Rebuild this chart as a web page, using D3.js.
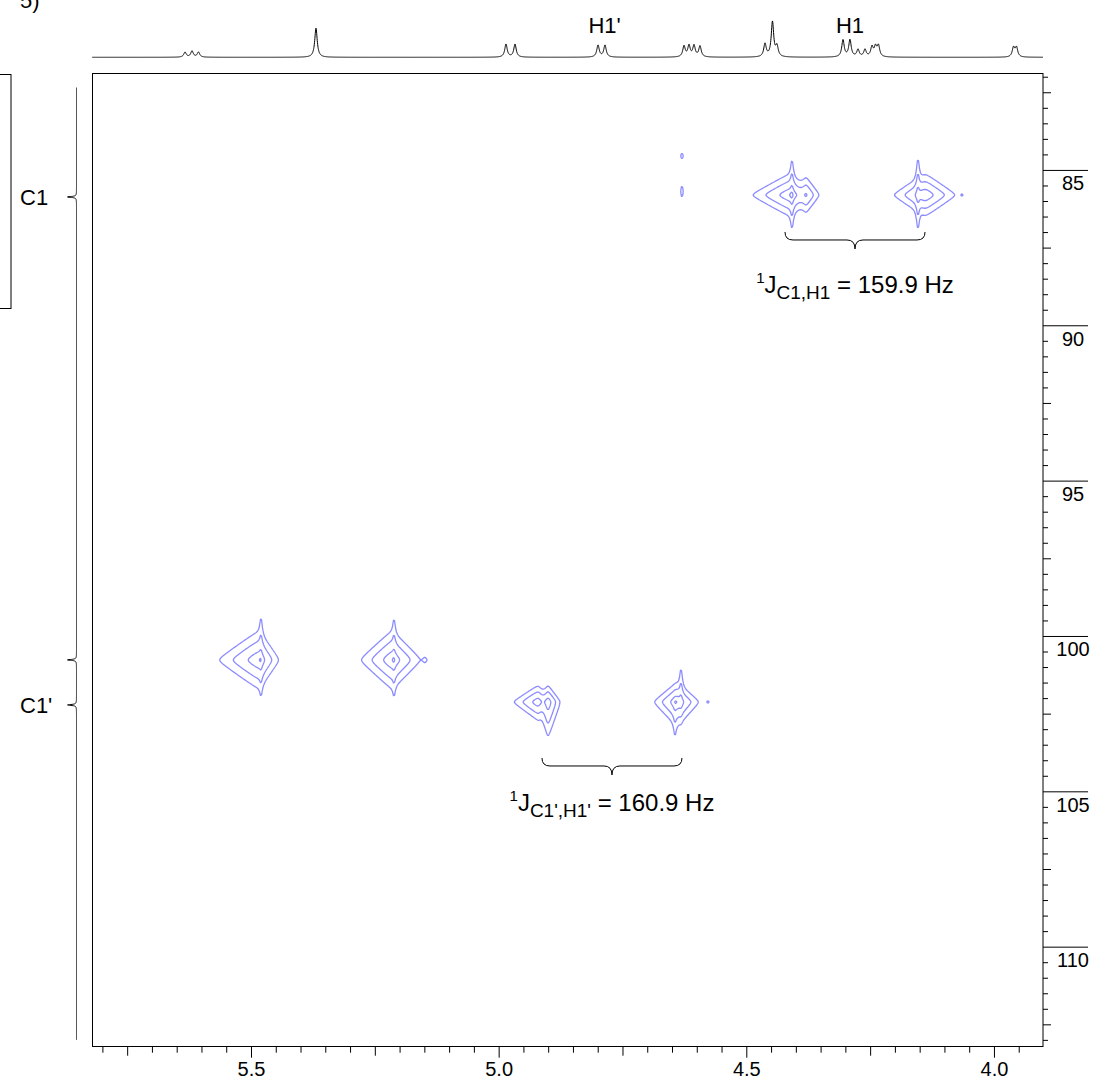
<!DOCTYPE html>
<html><head><meta charset="utf-8">
<script src="https://cdn.jsdelivr.net/npm/d3@7"></script>
<style>
html,body{margin:0;padding:0;background:#fff;}
svg{display:block;}
text{font-family:Arial,"Liberation Sans",Helvetica,sans-serif;fill:#000;}
</style></head><body>
<svg id="c" width="1096" height="1080"></svg>
<script>
// ---------------- DATA ----------------
const hDomain = [5.821, 3.901];          // 1H ppm (F2), left -> right
const cDomain = [81.88, 113.22];         // 13C ppm (F1), top -> bottom
const hMajorTicks = [5.5, 5.0, 4.5, 4.0];
const hTickLabels = ["5.5", "5.0", "4.5", "4.0"];
const hMediumTicks = [5.75, 5.25, 4.75, 4.25];
const cMajorTicks = [85, 90, 95, 100, 105, 110];
const cTickLabels = ["85", "90", "95", "100", "105", "110"];

// 1H projection peak list: [ppm, relative intensity]
const protonPeaks = [
  [5.6332, 0.14], [5.6191, 0.17], [5.6060, 0.14],
  [5.3688, 0.81],
  [4.9852, 0.36], [4.9670, 0.36],
  [4.7994, 0.33], [4.7853, 0.33],
  [4.6258, 0.30], [4.6157, 0.31], [4.6056, 0.31], [4.5935, 0.30],
  [4.4623, 0.36], [4.4472, 0.97], [4.4381, 0.28],
  [4.3048, 0.47], [4.2907, 0.47], [4.2745, 0.20], [4.2604, 0.20],
  [4.2463, 0.27], [4.2392, 0.26], [4.2332, 0.30],
  [3.9606, 0.26], [3.9545, 0.26]
];
const protonLabels = [["H1'", 4.786], ["H1", 4.2907]];

// 13C projection peak list: [ppm, relative intensity]
const carbonPeaks = [[85.87, 1.0], [100.77, 1.0], [102.22, 1.0]];
const carbonLabels = [["C1", 85.87], ["C1'", 102.22]];

// cross-peak components: [H ppm, C ppm, amplitude, wLeft, wRight (H ppm), wUp, wDown (C ppm)]
const crossPeaks = [
  // C1 / H1 doublet, left component
  [4.4118, 85.807, 1.00, 0.0220, 0.0128, 0.193, 0.193],
  [4.4078, 85.807, 0.50, 0.0024, 0.0024, 0.420, 0.400],
  [4.3795, 85.807, 0.45, 0.0075, 0.0088, 0.200, 0.200],
  // C1 / H1 doublet, right component
  [4.1392, 85.807, 1.00, 0.0182, 0.0177, 0.193, 0.193],
  [4.1534, 85.807, 0.50, 0.0024, 0.0024, 0.440, 0.408],
  [4.0646, 85.807, 0.06, 0.0020, 0.0020, 0.032, 0.032],
  // t1 noise at 4.63 ppm
  [4.6299, 84.551, 0.10, 0.0021, 0.0021, 0.0925, 0.0925],
  [4.6299, 85.694, 0.10, 0.0021, 0.0021, 0.195, 0.195],
  // other anomeric pair at 100.77 ppm
  [5.4838, 100.773, 1.00, 0.0235, 0.0116, 0.265, 0.265],
  [5.4798, 100.773, 0.30, 0.0024, 0.0024, 0.610, 0.477],
  [5.2153, 100.773, 1.00, 0.0182, 0.0165, 0.265, 0.265],
  [5.2113, 100.773, 0.30, 0.0024, 0.0024, 0.580, 0.477],
  [5.1487, 100.773, 0.08, 0.0030, 0.0030, 0.064, 0.064],
  // C1' / H1' doublet
  [4.9206, 102.124, 0.80, 0.0151, 0.0073, 0.158, 0.174],
  [4.9004, 102.124, 0.80, 0.0061, 0.0075, 0.158, 0.344],
  [4.6399, 102.124, 1.00, 0.0133, 0.0127, 0.178, 0.220],
  [4.6319, 102.124, 0.40, 0.0024, 0.0024, 0.440, 0.200],
  [4.6440, 102.124, 0.30, 0.0024, 0.0024, 0.124, 0.477],
  [4.5774, 102.124, 0.07, 0.0024, 0.0024, 0.040, 0.040]
];
const contourLevels = [0.025, 0.08, 0.28, 0.6];

// couplings: bracket between H ppm values at C ppm, label baseline C ppm
const couplings = [
  {h1: 4.4219, h2: 4.1392, c: 86.997, labelC: 88.96, sub: "C1,H1", value: " = 159.9 Hz"},
  {h1: 4.9125, h2: 4.6299, c: 103.927, labelC: 105.63, sub: "C1',H1'", value: " = 160.9 Hz"}
];

// ---------------- DRAWING ----------------
const svg = d3.select("#c");
const x = d3.scaleLinear().domain(hDomain).range([92, 1043]);
const y = d3.scaleLinear().domain(cDomain).range([73, 1046.7]);

// top-left partial panel label
svg.append("text").attr("x", 20).attr("y", 8).attr("font-size", 22).text("5)");

// partial box on far left
svg.append("rect").attr("x", -10).attr("y", 74.5).attr("width", 21).attr("height", 234)
  .attr("fill", "none").attr("stroke", "#000").attr("stroke-width", 1);

// plot frame
svg.append("rect").attr("x", 92.5).attr("y", 73.5).attr("width", 950.5).attr("height", 973)
  .attr("fill", "none").attr("stroke", "#000").attr("stroke-width", 1);

// ---- bottom axis (1H) ----
const hMinor = d3.range(395, 581, 5).map(v => v / 100)
  .filter(v => !hMediumTicks.some(m => Math.abs(m - v) < 1e-6) && !hMajorTicks.some(m => Math.abs(m - v) < 1e-6));
function styleAxis(g) {
  g.select(".domain").remove();
  g.selectAll(".tick line").attr("stroke", "#000");
  g.selectAll("text").attr("font-family", "Arial, 'Liberation Sans', sans-serif").attr("fill", "#000");
}
const bottomY = 1046.7;
svg.append("g").attr("transform", `translate(0,${bottomY})`)
  .call(d3.axisBottom(x).tickValues(hMinor).tickSize(6).tickFormat("")).call(styleAxis);
svg.append("g").attr("transform", `translate(0,${bottomY})`)
  .call(d3.axisBottom(x).tickValues(hMediumTicks).tickSize(9).tickFormat("")).call(styleAxis);
svg.append("g").attr("transform", `translate(0,${bottomY})`)
  .call(d3.axisBottom(x).tickValues(hMajorTicks).tickSize(11).tickPadding(4)
    .tickFormat((d, i) => hTickLabels[i])).call(styleAxis)
  .selectAll("text").attr("font-size", 20);

// ---- right axis (13C) ----
const cMediumTicks = d3.range(165, 227, 5).map(v => v / 2).filter(v => v % 5 !== 0);
const cMinor = d3.range(164, 227, 1).map(v => v / 2).filter(v => v % 2.5 !== 0);
const rightX = 1043;
svg.append("g").attr("transform", `translate(${rightX},0)`)
  .call(d3.axisRight(y).tickValues(cMinor).tickSize(5).tickFormat("")).call(styleAxis);
svg.append("g").attr("transform", `translate(${rightX},0)`)
  .call(d3.axisRight(y).tickValues(cMediumTicks).tickSize(8).tickFormat("")).call(styleAxis);
const ra = svg.append("g").attr("transform", `translate(${rightX},0)`)
  .call(d3.axisRight(y).tickValues(cMajorTicks).tickSize(45).tickFormat((d, i) => cTickLabels[i])).call(styleAxis);
ra.selectAll("text").attr("font-size", 20).attr("text-anchor", "middle")
  .attr("x", 30).attr("dy", null).attr("y", 20);

// ---- top 1H projection ----
const hHW = 0.003;
const yTop = d3.scaleLinear().domain([0, 1]).range([57.3, 21.3]);
const hGrid = d3.range(hDomain[1], hDomain[0], 0.0004);
const hSpec = hGrid.map(p => [p, d3.sum(protonPeaks, pk => pk[1] / (1 + ((p - pk[0]) / hHW) ** 2))]);
svg.append("path").datum(hSpec)
  .attr("d", d3.line().x(d => x(d[0])).y(d => yTop(d[1])))
  .attr("fill", "none").attr("stroke", "#000").attr("stroke-width", 1);
svg.selectAll(".hlab").data(protonLabels).enter().append("text")
  .attr("x", d => x(d[1])).attr("y", 33).attr("text-anchor", "middle").attr("font-size", 22)
  .text(d => d[0]);

// ---- left 13C projection ----
const cHW = 0.018;
const xLeft = d3.scaleLinear().domain([0, 1]).range([76.5, 67.5]);
const cGrid = d3.range(82.35, 113.0, 0.004);
const cSpec = cGrid.map(c => [c, d3.sum(carbonPeaks, pk => pk[1] / (1 + ((c - pk[0]) / cHW) ** 2))]);
svg.append("path").datum(cSpec)
  .attr("d", d3.line().x(d => xLeft(d[1])).y(d => y(d[0])))
  .attr("fill", "none").attr("stroke", "#000").attr("stroke-width", 1);
svg.selectAll(".clab").data(carbonLabels).enter().append("text")
  .attr("x", 20).attr("y", d => y(d[1]) + 8).attr("font-size", 22)
  .text(d => d[0]);

// ---- contour map (rounded exponential line shapes -> diamond contours) ----
const shape = t => Math.exp(-Math.sqrt(t * t + 0.09));
const [px0, px1] = x.range(), [py0, py1] = y.range();
const nx = Math.round(px1 - px0), ny = Math.round(py1 - py0);
const field = new Float64Array(nx * ny);
const fx = new Float64Array(nx), fy = new Float64Array(ny);
crossPeaks.forEach(([H, C, amp, wL, wR, wU, wD]) => {
  const cx = x(H), cy = y(C);
  const wl = Math.abs(x(H + wL) - cx), wr = Math.abs(x(H - wR) - cx);
  const wu = Math.abs(y(C - wU) - cy), wd = Math.abs(y(C + wD) - cy);
  for (let i = 0; i < nx; i++) {
    const dx = px0 + i + 0.5 - cx; const w = dx < 0 ? wl : wr;
    fx[i] = shape(dx / w);
  }
  for (let j = 0; j < ny; j++) {
    const dy = py0 + j + 0.5 - cy; const w = dy < 0 ? wu : wd;
    fy[j] = amp * shape(dy / w);
  }
  for (let j = 0; j < ny; j++) {
    const f = fy[j]; if (f < 1e-5) continue;
    const off = j * nx;
    for (let i = 0; i < nx; i++) field[off + i] += f * fx[i];
  }
});
const contours = d3.contours().size([nx, ny]).thresholds(contourLevels)(field);
svg.append("g").attr("transform", `translate(${px0},${py0})`)
  .selectAll("path").data(contours).enter().append("path")
  .attr("d", d3.geoPath())
  .attr("fill", "none").attr("stroke", "#7878ff").attr("stroke-width", 1.3)
  .attr("stroke-opacity", 0.85).attr("stroke-linejoin", "round");

// ---- coupling brackets and labels ----
couplings.forEach(cp => {
  const x1 = x(cp.h1), x2 = x(cp.h2), y0 = y(cp.c), xm = (x1 + x2) / 2;
  const p = d3.path();
  p.moveTo(x1, y0);
  p.quadraticCurveTo(x1, y0 + 8, x1 + 8, y0 + 8);
  p.lineTo(xm - 8, y0 + 8);
  p.quadraticCurveTo(xm, y0 + 8, xm, y0 + 17);
  p.quadraticCurveTo(xm, y0 + 8, xm + 8, y0 + 8);
  p.lineTo(x2 - 8, y0 + 8);
  p.quadraticCurveTo(x2, y0 + 8, x2, y0);
  svg.append("path").attr("d", p.toString()).attr("fill", "none")
    .attr("stroke", "#000").attr("stroke-width", 1);
  const t = svg.append("text").attr("x", xm).attr("y", y(cp.labelC))
    .attr("text-anchor", "middle").attr("font-size", 24);
  t.append("tspan").attr("font-size", 15).attr("dy", -10).text("1");
  t.append("tspan").attr("dy", 10).text("J");
  t.append("tspan").attr("font-size", 19).attr("dy", 6).text(cp.sub);
  t.append("tspan").attr("dy", -6).text(cp.value);
});
</script>
</body></html>
